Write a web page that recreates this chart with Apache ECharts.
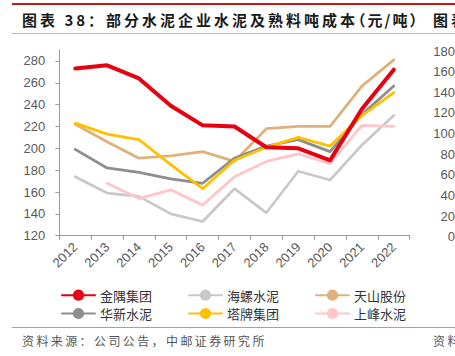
<!DOCTYPE html>
<html>
<head>
<meta charset="utf-8">
<script src="https://cdn.jsdelivr.net/npm/echarts@6/dist/echarts.min.js"></script>
<style>
  html, body { margin: 0; padding: 0; background: #fff; overflow: hidden; }
  #wrap { position: relative; width: 455px; height: 356px; overflow: hidden; }
  #chart { position: absolute; left: 0; top: 0; width: 455px; height: 356px; }
  .rule { position: absolute; left: 12px; right: 0; }
  .t { position: absolute; white-space: nowrap; font-family: "Noto Sans CJK SC", sans-serif; }
  .halt { font-feature-settings: "halt" 1; letter-spacing: 2px; }
</style>
</head>
<body>
<div id="wrap">
  <div id="chart"></div>
  <div class="rule" style="top:3px;height:2px;background:#C8161D;"></div>
  <div class="rule" style="top:33px;height:1px;background:#E3A3A3;"></div>
  <div class="rule" style="top:327px;height:1px;background:#D98A8A;"></div>
  <div class="t" id="title" style="left:22px;top:10px;font-size:15px;line-height:20px;font-weight:bold;color:#1a1a1a;letter-spacing:3px;"></div>
  <div class="t" id="title2" style="left:433px;top:10px;font-size:15px;line-height:20px;font-weight:bold;color:#1a1a1a;letter-spacing:3px;"></div>
  <div class="t" id="source" style="left:22px;top:333px;font-size:12px;line-height:16px;color:#555;letter-spacing:2.4px;"></div>
  <div class="t" id="source2" style="left:433px;top:333px;font-size:12px;line-height:16px;color:#555;letter-spacing:2.4px;"></div>
</div>
<script>
// ---- data ----
const titleText = "图表 38：部分水泥企业水泥及熟料吨成本（元/吨）";
const nextTitleText = "图表";
const sourceText = "资料来源：公司公告，中邮证券研究所";
const nextSourceText = "资料";

const years = ["2012","2013","2014","2015","2016","2017","2018","2019","2020","2021","2022"];

const jinyu    = [273, 276, 264, 239, 221, 220, 201, 200, 189, 236, 272];
const hailuo   = [174, 159, 156, 140, 133, 163, 141, 179, 171, 203, 230];
const tianshan = [222, 206, 191, 193, 197, 188, 218, 220, 220, 257, 281];
const huaxin   = [199, 182, 178, 172, 168, 191, 202, 208, 197, 231, 257];
const tapai    = [223, 213, 208, 185, 163, 189, 201, 210, 202, 230, 251];
const shangfeng= [null, 168, 154, 162, 148, 174, 188, 195, 186, 221, 220];

const seriesNames = ["金隅集团","海螺水泥","天山股份","华新水泥","塔牌集团","上峰水泥"];
const legendRow1 = ["金隅集团","海螺水泥","天山股份"];
const legendRow2 = ["华新水泥","塔牌集团","上峰水泥"];

const yMin = 120, yMax = 290, yStep = 20;
// neighbouring chart's axis (cut off at right edge)
const nextAxisMin = 0, nextAxisMax = 180, nextAxisStep = 20;

// ---- text blocks ----
(function () {
  const el = document.getElementById('title');
  const cut = titleText.indexOf('（');
  const main = document.createElement('span');
  main.textContent = cut >= 0 ? titleText.slice(0, cut) : titleText;
  el.appendChild(main);
  if (cut >= 0) {
    const unit = document.createElement('span');
    unit.className = 'halt';
    unit.textContent = titleText.slice(cut);
    el.appendChild(unit);
  }
})();
document.getElementById('title2').textContent = nextTitleText;
document.getElementById('source').textContent = sourceText;
document.getElementById('source2').textContent = nextSourceText;

const colors = {
  "金隅集团": "#E60012",
  "海螺水泥": "#C9C9C9",
  "天山股份": "#DDB27C",
  "华新水泥": "#8E8E8E",
  "塔牌集团": "#FFC000",
  "上峰水泥": "#FFC5CB"
};
const widths = { "金隅集团": 4 };
const dataMap = {
  "金隅集团": jinyu, "海螺水泥": hailuo, "天山股份": tianshan,
  "华新水泥": huaxin, "塔牌集团": tapai, "上峰水泥": shangfeng
};
const zOrder = { "金隅集团": 10 };

const axisFont = { fontFamily: "Liberation Sans, Arial, sans-serif", fontSize: 13, color: "#595959" };

const chart = echarts.init(document.getElementById('chart'), null, { renderer: 'svg' });

const series = seriesNames.map(name => ({
  name: name,
  type: 'line',
  data: dataMap[name],
  xAxisIndex: 0,
  yAxisIndex: 0,
  symbol: 'none',
  z: zOrder[name] || 2,
  connectNulls: false,
  lineStyle: { color: colors[name], width: widths[name] || 2.8, cap: 'round', join: 'round' },
  itemStyle: { color: colors[name] },
  emphasis: { disabled: true },
  animation: false
}));

const legendCommon = {
  orient: 'horizontal',
  left: 56,
  itemWidth: 33,
  itemHeight: 14,
  itemGap: 36,
  textStyle: { fontFamily: "Noto Sans CJK SC, sans-serif", fontSize: 13, color: "#333" },
  selectedMode: false
};

chart.setOption({
  animation: false,
  backgroundColor: 'transparent',
  grid: [
    { left: 59.3, right: 45.3, top: 50, bottom: 120.3, containLabel: false },
    { left: 460, width: 20, top: 51, bottom: 119.3, containLabel: false }
  ],
  legend: [
    Object.assign({}, legendCommon, { top: 283.7, data: legendRow1 }),
    Object.assign({}, legendCommon, { top: 302, data: legendRow2 })
  ],
  xAxis: [
    {
      type: 'category',
      gridIndex: 0,
      data: years,
      boundaryGap: true,
      axisLine: { lineStyle: { color: '#9a9a9a', width: 1 } },
      axisTick: { show: true, length: 4, alignWithLabel: false, lineStyle: { color: '#9a9a9a' } },
      axisLabel: Object.assign({ rotate: 45, interval: 0, margin: 9 }, axisFont),
      splitLine: { show: false }
    },
    {
      type: 'category',
      gridIndex: 1,
      data: [],
      show: false
    }
  ],
  yAxis: [
    {
      type: 'value',
      gridIndex: 0,
      min: yMin,
      max: yMax,
      interval: yStep,
      axisLine: { show: true, lineStyle: { color: '#9a9a9a', width: 1 } },
      axisTick: { show: true, length: 4, lineStyle: { color: '#9a9a9a' } },
      axisLabel: Object.assign({ margin: 14, showMaxLabel: false }, axisFont),
      splitLine: { show: false }
    },
    {
      type: 'value',
      gridIndex: 1,
      position: 'left',
      min: nextAxisMin,
      max: nextAxisMax,
      interval: nextAxisStep,
      axisLine: { show: false },
      axisTick: { show: false },
      axisLabel: Object.assign({ margin: 5 }, axisFont),
      splitLine: { show: false }
    }
  ],
  series: series
});
</script>
</body>
</html>
